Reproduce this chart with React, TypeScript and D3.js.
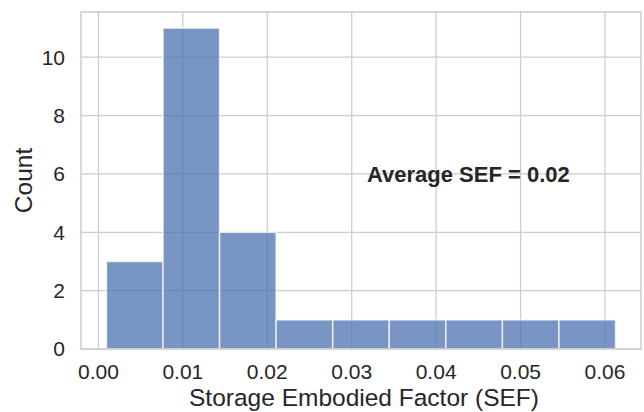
import React from "react";
import * as d3 from "d3";

const binEdges = [0.00095, 0.00765, 0.01435, 0.02105, 0.02775, 0.03445, 0.04115, 0.04785, 0.05455, 0.06125];
const counts = [3, 11, 4, 1, 1, 1, 1, 1, 1];
const xTicks = [0, 0.01, 0.02, 0.03, 0.04, 0.05, 0.06];
const yTicks = [0, 2, 4, 6, 8, 10];
const xLabel = "Storage Embodied Factor (SEF)";
const yLabel = "Count";
const annotation = "Average SEF = 0.02";
const annotationPos = { x: 0.0318, y: 6 };

const W = 644;
const H = 412;
const left = 81;
const right = 641;
const top = 12;
const bottom = 349;
const font = "'Liberation Sans', Arial, sans-serif";
const textColor = "#262626";
const gridColor = "#cccccc";

export default function App() {
  const xMin = binEdges[0];
  const xMax = binEdges[binEdges.length - 1];
  const pad = (xMax - xMin) * 0.05;
  const x = d3.scaleLinear().domain([xMin - pad, xMax + pad]).range([left, right]);
  const yMax = (d3.max(counts) as number) * 1.05;
  const y = d3.scaleLinear().domain([0, yMax]).range([bottom, top]);

  return (
    <svg width={W} height={H} style={{ position: "absolute", left: 0, top: 0, background: "#fff" }}>
      <rect x={0} y={0} width={W} height={H} fill="#fff" />
      {xTicks.map((t) => (
        <line key={"gx" + t} x1={x(t)} x2={x(t)} y1={top} y2={bottom} stroke={gridColor} strokeWidth={1.25} />
      ))}
      {yTicks.map((t) => (
        <line key={"gy" + t} x1={left} x2={right} y1={y(t)} y2={y(t)} stroke={gridColor} strokeWidth={1.25} />
      ))}
      {counts.map((c, i) => (
        <rect
          key={"b" + i}
          x={x(binEdges[i])}
          y={y(c)}
          width={x(binEdges[i + 1]) - x(binEdges[i])}
          height={y(0) - y(c)}
          fill="#4c72b0"
          fillOpacity={0.75}
          stroke="#ffffff"
          strokeOpacity={0.75}
          strokeWidth={1.5}
        />
      ))}
      <rect x={left} y={top} width={right - left} height={bottom - top} fill="none" stroke={gridColor} strokeWidth={1.5} />
      {xTicks.map((t) => (
        <text key={"tx" + t} x={x(t)} y={379} textAnchor="middle" fontFamily={font} fontSize={21} fill={textColor}>
          {d3.format(".2f")(t)}
        </text>
      ))}
      {yTicks.map((t) => (
        <text key={"ty" + t} x={65} y={y(t)} dy="0.355em" textAnchor="end" fontFamily={font} fontSize={21} fill={textColor}>
          {t}
        </text>
      ))}
      <text x={(left + right) / 2 + 3} y={406} textAnchor="middle" fontFamily={font} fontSize={24.5} fill={textColor}>
        {xLabel}
      </text>
      <text
        transform={`translate(32, ${(top + bottom) / 2}) rotate(-90)`}
        textAnchor="middle"
        fontFamily={font}
        fontSize={24.5}
        fill={textColor}
      >
        {yLabel}
      </text>
      <text x={x(annotationPos.x)} y={y(annotationPos.y)} dy="0.35em" fontFamily={font} fontSize={22} fontWeight="bold" fill={textColor}>
        {annotation}
      </text>
    </svg>
  );
}
